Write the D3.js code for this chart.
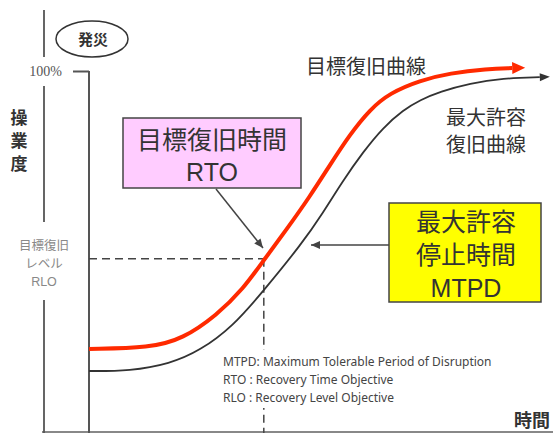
<!DOCTYPE html>
<html lang="ja">
<head>
<meta charset="UTF-8">
<title>目標復旧曲線</title>
<style>
  body { margin: 0; background: #fff; }
  svg { display: block; }
  text { font-family: "Noto Sans CJK JP", "Noto Sans", sans-serif; }
</style>
</head>
<body>
<svg width="553" height="433"></svg>
<script src="https://d3js.org/d3.v7.min.js"></script>
<script>
// 目標復旧曲線 (time, level %)
var targetCurve = [
  [0, 23.0], [13.3, 23.3], [20.4, 25.8], [27.8, 32.4], [33.5, 39.6],
  [38.0, 47.6], [43.0, 56.2], [48.0, 65.2], [52.4, 74.0], [56.7, 82.4],
  [61.1, 89.4], [65.4, 93.9], [71.9, 97.4], [78.5, 99.4], [86.5, 100.6], [92.0, 100.8]
];
// 最大許容復旧曲線
var maxCurve = [
  [0, 16.9], [8.9, 16.9], [17.6, 18.9], [24.1, 22.5], [31.3, 29.3],
  [37.8, 38.9], [46.3, 52.2], [50.9, 60.8], [55.2, 69.6], [59.6, 77.6],
  [63.9, 84.3], [68.3, 89.2], [72.0, 92.0], [76.3, 94.3], [82.8, 96.6],
  [90.0, 98.0], [98.0, 98.3]
];
var rtoTime = 38;
var rloLevel = 48;
var yTicks = [100];
var rloLabel = ['目標復旧', 'レベル', 'RLO'];
var rtoLabel = ['目標復旧時間', 'RTO'];
var mtpdLabel = ['最大許容', '停止時間', 'MTPD'];
var maxCurveLabel = ['最大許容', '復旧曲線'];
var notes = [
  'MTPD: Maximum Tolerable Period of Disruption',
  'RTO : Recovery Time Objective',
  'RLO : Recovery Level Objective'
];

var svg = d3.select('svg');
var x = d3.scaleLinear().domain([0, 100]).range([89, 549]);
var y = d3.scaleLinear().domain([0, 100]).range([432, 71]);

var defs = svg.append('defs');
function marker(id, color, len, half, refX) {
  defs.append('marker')
    .attr('id', id)
    .attr('markerUnits', 'userSpaceOnUse')
    .attr('markerWidth', len + 2).attr('markerHeight', half * 2 + 2)
    .attr('viewBox', (-1) + ' ' + (-half - 1) + ' ' + (len + 2) + ' ' + (half * 2 + 2))
    .attr('refX', refX).attr('refY', 0)
    .attr('orient', 'auto')
    .append('path')
    .attr('d', 'M0,' + (-half) + 'L' + len + ',0L0,' + half + 'Z')
    .attr('fill', color);
}
marker('arRed', '#ff2a00', 13, 6, 0);
marker('arBlack', '#333', 10, 4, 0);
marker('arNote', '#444', 9, 4, 9);

// latin lines get a wider sans face, like the original
function isLatin(t) { return /^[A-Z]+$/.test(t); }

// outer frame
svg.append('line').attr('x1', 42).attr('x2', 553).attr('y1', 432).attr('y2', 432)
  .attr('stroke', '#888').attr('stroke-width', 2);
[[10, 57], [86, 222], [300, 433]].forEach(function (s) {
  svg.append('line').attr('x1', 44).attr('x2', 44).attr('y1', s[0]).attr('y2', s[1])
    .attr('stroke', '#555').attr('stroke-width', 1.8);
});

// y axis
var yAxis = d3.axisLeft(y).tickValues(yTicks).tickFormat(function (d) { return d + '%'; })
  .tickSize(16).tickPadding(11).tickSizeOuter(0);
var ga = svg.append('g').attr('transform', 'translate(' + x(0) + ',0)').call(yAxis);
ga.select('.domain').attr('stroke', '#555').attr('stroke-width', 2)
  .attr('d', 'M0,' + y(100) + 'V433');
ga.selectAll('.tick line').attr('stroke', '#555').attr('stroke-width', 2);
ga.selectAll('.tick text').attr('fill', '#555')
  .style('font-family', '"Liberation Serif", serif').style('font-size', '14px');

// RLO / RTO dashed guides
svg.append('line')
  .attr('x1', x(0)).attr('x2', x(rtoTime)).attr('y1', y(rloLevel)).attr('y2', y(rloLevel))
  .attr('stroke', '#444').attr('stroke-width', 1.5).attr('stroke-dasharray', '8,5');
svg.append('line')
  .attr('x1', x(rtoTime)).attr('x2', x(rtoTime)).attr('y1', y(rloLevel)).attr('y2', 433)
  .attr('stroke', '#444').attr('stroke-width', 1.5).attr('stroke-dasharray', '8,5');

// curves
var line = d3.line().x(function (d) { return x(d[0]); }).y(function (d) { return y(d[1]); })
  .curve(d3.curveBasis);
svg.append('path').datum(maxCurve).attr('d', line)
  .attr('fill', 'none').attr('stroke', '#333').attr('stroke-width', 1.8)
  .attr('marker-end', 'url(#arBlack)');
svg.append('path').datum(targetCurve).attr('d', line)
  .attr('fill', 'none').attr('stroke', '#ff2a00').attr('stroke-width', 4)
  .attr('marker-end', 'url(#arRed)');

// 発災
svg.append('ellipse').attr('cx', 92).attr('cy', 39).attr('rx', 36).attr('ry', 18)
  .attr('fill', '#fff').attr('stroke', '#333').attr('stroke-width', 1.5);
svg.append('text').attr('x', 93).attr('y', 45).attr('text-anchor', 'middle')
  .attr('fill', '#333').style('font-size', '15px').style('font-weight', 'bold').text('発災');

// y label 操業度
['操', '業', '度'].forEach(function (c, i) {
  svg.append('text').attr('x', 19).attr('y', 124 + i * 23).attr('text-anchor', 'middle')
    .attr('fill', '#333').style('font-size', '17px').style('font-weight', 'bold').text(c);
});
// x label
svg.append('text').attr('x', 550).attr('y', 427).attr('text-anchor', 'end')
  .attr('fill', '#333').style('font-size', '18px').style('font-weight', 'bold').text('時間');

// RLO label
rloLabel.forEach(function (t, i) {
  svg.append('text').attr('x', 44).attr('y', 250 + i * 18).attr('text-anchor', 'middle')
    .attr('fill', '#888').style('font-size', '12.5px')
    .style('font-family', isLatin(t) ? '"Liberation Sans", sans-serif' : null).text(t);
});

// curve labels
svg.append('text').attr('x', 306).attr('y', 74).attr('fill', '#333')
  .style('font-size', '20px').text('目標復旧曲線');
maxCurveLabel.forEach(function (t, i) {
  svg.append('text').attr('x', 446).attr('y', 125 + i * 27).attr('fill', '#333')
    .style('font-size', '20px').text(t);
});

// RTO box
svg.append('rect').attr('x', 123).attr('y', 118).attr('width', 178).attr('height', 70)
  .attr('fill', '#ffccff').attr('stroke', '#444').attr('stroke-width', 1.5);
rtoLabel.forEach(function (t, i) {
  svg.append('text').attr('x', 212).attr('y', 149 + i * 32).attr('text-anchor', 'middle')
    .attr('fill', '#333').style('font-size', '25px')
    .style('font-family', isLatin(t) ? '"Liberation Sans", sans-serif' : null).text(t);
});
svg.append('line').attr('x1', 216).attr('y1', 189).attr('x2', 263).attr('y2', 248)
  .attr('stroke', '#444').attr('stroke-width', 1.5).attr('marker-end', 'url(#arNote)');

// MTPD box
svg.append('rect').attr('x', 389).attr('y', 203).attr('width', 152).attr('height', 99)
  .attr('fill', '#ffff00').attr('stroke', '#444').attr('stroke-width', 1.5);
mtpdLabel.forEach(function (t, i) {
  svg.append('text').attr('x', 466).attr('y', 231 + i * 33).attr('text-anchor', 'middle')
    .attr('fill', '#333').style('font-size', '25px')
    .style('font-family', isLatin(t) ? '"Liberation Sans", sans-serif' : null).text(t);
});
svg.append('line').attr('x1', 389).attr('y1', 245).attr('x2', 311).attr('y2', 245)
  .attr('stroke', '#444').attr('stroke-width', 1.5).attr('marker-end', 'url(#arNote)');

// notes (white backing hides the dashed guide behind them)
svg.append('rect').attr('x', 220).attr('y', 350).attr('width', 310).attr('height', 58)
  .attr('fill', '#fff');
notes.forEach(function (t, i) {
  svg.append('text').attr('x', 223).attr('y', 366 + i * 18).attr('fill', '#444')
    .style('font-family', '"Noto Sans", sans-serif').style('font-size', '12px').text(t);
});
</script>
</body>
</html>
